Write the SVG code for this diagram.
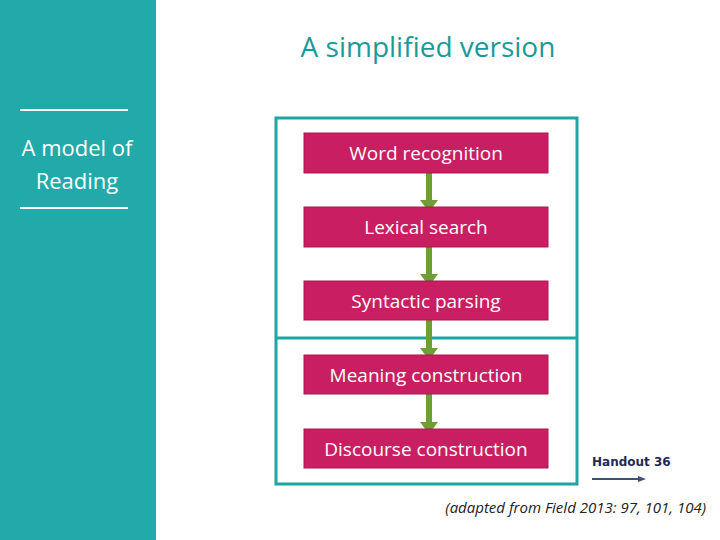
<svg xmlns="http://www.w3.org/2000/svg" width="720" height="540" viewBox="0 0 720 540">
<defs>
<style>
.box{fill:#C91E62;stroke:#A8184F;stroke-width:1}
.lbl{font-family:"Open Sans","Liberation Sans",sans-serif;font-size:19px;fill:#fff;text-anchor:middle}
.arr{fill:#6E9F35}
</style>
</defs>
<rect x="0" y="0" width="156" height="540" fill="#21AAA9"/>
<line x1="20" y1="110" x2="128" y2="110" stroke="#fff" stroke-width="2"/>
<line x1="20" y1="208" x2="128" y2="208" stroke="#fff" stroke-width="2"/>
<text x="77" y="156" font-family="Open Sans,Liberation Sans,sans-serif" font-size="22" fill="#fff" text-anchor="middle">A model of</text>
<text x="77" y="189" font-family="Open Sans,Liberation Sans,sans-serif" font-size="22" fill="#fff" text-anchor="middle">Reading</text>
<text x="428" y="57" font-family="Open Sans,Liberation Sans,sans-serif" font-size="28" fill="#1A9A99" text-anchor="middle">A simplified version</text>
<rect x="276" y="118" width="301" height="366" fill="none" stroke="#1DA5A3" stroke-width="3"/>
<line x1="276" y1="338" x2="577" y2="338" stroke="#1DA5A3" stroke-width="3"/>
<g id="connectors">
<path class="arr" d="M426 168h6v32h6l-9 12l-9-12h6z"/>
<path class="arr" d="M426 242h6v32h6l-9 12l-9-12h6z"/>
<path class="arr" d="M426 316h6v32h6l-9 12l-9-12h6z"/>
<path class="arr" d="M426 390h6v32h6l-9 12l-9-12h6z"/>
</g>
<g id="n1"><rect class="box" x="304" y="133" width="244" height="40"/><text class="lbl" x="426" y="160">Word recognition</text></g>
<g id="n2"><rect class="box" x="304" y="207" width="244" height="40"/><text class="lbl" x="426" y="234">Lexical search</text></g>
<g id="n3"><rect class="box" x="304" y="281" width="244" height="39"/><text class="lbl" x="426" y="308">Syntactic parsing</text></g>
<g id="n4"><rect class="box" x="304" y="355" width="244" height="39"/><text class="lbl" x="426" y="382">Meaning construction</text></g>
<g id="n5"><rect class="box" x="304" y="429" width="244" height="39"/><text class="lbl" x="426" y="456">Discourse construction</text></g>
<text x="592" y="466" font-family="DejaVu Sans,sans-serif" font-size="12" font-weight="bold" fill="#1F2A55">Handout 36</text>
<line x1="592" y1="479" x2="640" y2="479" stroke="#3A5278" stroke-width="2"/>
<path d="M638 476l8 3l-8 3z" fill="#3A5278"/>
<text x="706" y="513" font-family="Open Sans,Liberation Sans,sans-serif" font-size="15" font-style="italic" fill="#222" text-anchor="end">(adapted from Field 2013: 97, 101, 104)</text>
</svg>
